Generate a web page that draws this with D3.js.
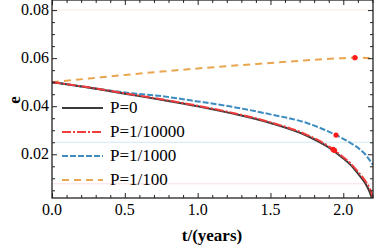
<!DOCTYPE html>
<html>
<head>
<meta charset="utf-8">
<script src="https://cdn.jsdelivr.net/npm/d3@7"></script>
</head>
<body style="margin:0">
<script>
// curve samples
var tP0 = [0, 0.25, 0.5, 0.75, 1.0, 1.25, 1.5, 1.75, 1.9, 2.0, 2.05, 2.1, 2.15, 2.18, 2.2];
var eP0 = [0.050, 0.0478, 0.0452, 0.0427, 0.0400, 0.0368, 0.0330, 0.0277, 0.0228, 0.0182, 0.0156, 0.0120, 0.0080, 0.0045, 0.0010];

var tP4 = [0, 0.25, 0.5, 0.75, 1.0, 1.25, 1.5, 1.75, 1.9, 2.0, 2.05, 2.1, 2.15, 2.18, 2.21];
var eP4 = [0.050, 0.0479, 0.0454, 0.0429, 0.0402, 0.0371, 0.0333, 0.0281, 0.0233, 0.0188, 0.0162, 0.0128, 0.0090, 0.0060, 0.0010];

var tP3 = [0, 0.25, 0.5, 0.75, 1.0, 1.25, 1.5, 1.75, 1.95, 2.05, 2.15, 2.204];
var eP3 = [0.050, 0.0478, 0.0457, 0.0442, 0.0420, 0.0396, 0.0366, 0.0330, 0.0280, 0.0247, 0.0200, 0.0156];

var tP2 = [0, 0.25, 0.5, 0.75, 1.0, 1.25, 1.5, 1.75, 2.0, 2.08, 2.204];
var eP2 = [0.050, 0.0515, 0.0530, 0.0544, 0.0557, 0.0569, 0.0580, 0.0591, 0.0600, 0.0602, 0.0599];

var dotT = [2.08, 1.95, 1.93, 1.94];
var dotE = [0.0602, 0.0280, 0.0220, 0.0216];

var refLines = [0.08, 0.025, 0.0077];
var legendLabels = ["P=0", "P=1/10000", "P=1/1000", "P=1/100"];

var FONT = "'Liberation Serif'";

var svgWidth = 374, svgHeight = 247;
var margin = {top: 0, right: 1, bottom: 49, left: 52};
var width = svgWidth - margin.left - margin.right;
var height = svgHeight - margin.top - margin.bottom;

var svg = d3.select("body").append("svg")
  .attr("width", svgWidth)
  .attr("height", svgHeight);

var g = svg.append("g")
  .attr("transform", `translate(${margin.left}, ${margin.top})`);

var x = d3.scaleLinear().domain([0, 2.204]).range([0, width]);
var y = d3.scaleLinear().domain([0.0018, 0.0842]).range([height, 0]);

// faint reference lines
var refColors = ["#fde9df", "#cfe7f3", "#fbdede"];
g.selectAll(".ref").data(refLines).enter().append("line")
  .attr("x1", 0).attr("x2", width)
  .attr("y1", d => y(d)).attr("y2", d => y(d))
  .attr("stroke", (d, i) => refColors[i])
  .attr("stroke-width", 1);

// curves
var series = [
  {t: tP2, e: eP2, color: "#e9a54f", dash: "7,5"},
  {t: tP3, e: eP3, color: "#3c8cc0", dash: "6,2"},
  {t: tP0, e: eP0, color: "#3a3a3a", dash: null},
  {t: tP4, e: eP4, color: "#f03c3c", dash: "9,2,2,2"}
];
var line = d3.line()
  .x(d => x(d[0]))
  .y(d => y(d[1]))
  .curve(d3.curveMonotoneX);

svg.append("clipPath").attr("id", "clip")
  .append("rect").attr("width", width).attr("height", height);

series.forEach(function(s) {
  g.append("path")
    .datum(d3.zip(s.t, s.e))
    .attr("clip-path", "url(#clip)")
    .attr("fill", "none")
    .attr("stroke", s.color)
    .attr("stroke-width", 2)
    .attr("stroke-dasharray", s.dash)
    .attr("d", line);
});

// red markers
g.selectAll(".dot").data(d3.zip(dotT, dotE)).enter().append("circle")
  .attr("cx", d => x(d[0]))
  .attr("cy", d => y(d[1]))
  .attr("r", 2.6)
  .attr("fill", "#ff1a1a");

// frame axes, ticks inward
function frame(axis, transform, ticks, len) {
  return g.append("g").attr("transform", transform)
    .call(axis.tickValues(ticks).tickSize(len).tickFormat(""))
    .call(a => a.select(".domain").remove())
    .call(a => a.selectAll("line").attr("stroke", "#222"));
}
var xMajor = [0, 0.5, 1.0, 1.5, 2.0];
var xMinor = d3.range(0.1, 2.21, 0.1).filter(v => Math.abs(v * 2 - Math.round(v * 2)) > 0.01);
var yMajor = [0.02, 0.04, 0.06, 0.08];
var yMinor = d3.range(0.005, 0.084, 0.005).filter(v => Math.abs(v * 50 - Math.round(v * 50)) > 0.01);

frame(d3.axisTop(x), `translate(0,${height})`, xMajor, 5);
frame(d3.axisTop(x), `translate(0,${height})`, xMinor, 3);
frame(d3.axisBottom(x), "translate(0,0)", xMajor, 5);
frame(d3.axisBottom(x), "translate(0,0)", xMinor, 3);
frame(d3.axisRight(y), "translate(0,0)", yMajor, 5);
frame(d3.axisRight(y), "translate(0,0)", yMinor, 3);
frame(d3.axisLeft(y), `translate(${width},0)`, yMajor, 5);
frame(d3.axisLeft(y), `translate(${width},0)`, yMinor, 3);

g.append("rect")
  .attr("x", 0).attr("y", 0).attr("width", width).attr("height", height)
  .attr("fill", "none").attr("stroke", "#222").attr("stroke-width", 1.3);

// tick labels
g.selectAll(".xl").data(xMajor).enter().append("text")
  .style("font-family", FONT)
  .attr("x", d => x(d)).attr("y", height + 17)
  .attr("text-anchor", "middle")
  .attr("font-size", 16)
  .text(d => d.toFixed(1));

g.selectAll(".yl").data(yMajor).enter().append("text")
  .style("font-family", FONT)
  .attr("x", -3).attr("y", d => y(d) + 5)
  .attr("text-anchor", "end")
  .attr("font-size", 16)
  .text(d => d.toFixed(2));

// axis titles
svg.append("text")
  .style("font-family", FONT)
  .attr("transform", "translate(20,100) rotate(-90)")
  .attr("text-anchor", "middle")
  .attr("font-size", 17)
  .attr("font-weight", "bold")
  .text("e");

svg.append("text")
  .style("font-family", FONT)
  .attr("x", 212).attr("y", 241)
  .attr("text-anchor", "middle")
  .attr("font-size", 17)
  .attr("font-weight", "bold")
  .text("t/(years)");

// legend
var legOrder = [2, 3, 1, 0];
var legend = svg.append("g").attr("transform", "translate(62,108)");
legendLabels.forEach(function(lab, i) {
  var s = series[legOrder[i]];
  var row = legend.append("g").attr("transform", `translate(0,${i * 24})`);
  row.append("line")
    .attr("x1", 0).attr("x2", 41).attr("y1", 0).attr("y2", 0)
    .attr("stroke", s.color).attr("stroke-width", 2)
    .attr("stroke-dasharray", s.dash);
  row.append("text")
    .style("font-family", FONT)
    .attr("x", 48).attr("y", 5)
    .attr("font-size", 17)
    .text(lab);
});
</script>
</body>
</html>
